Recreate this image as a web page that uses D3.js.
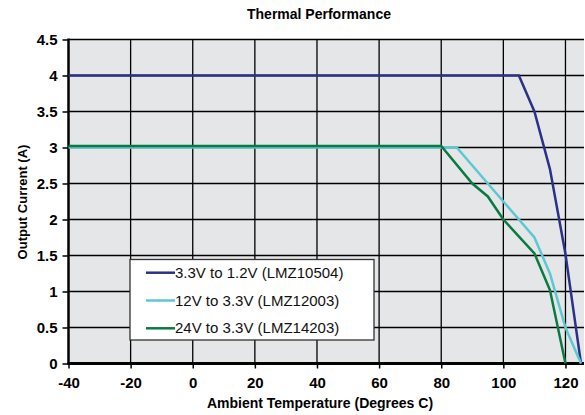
<!DOCTYPE html>
<html>
<head>
<meta charset="utf-8">
<script src="https://cdn.jsdelivr.net/npm/d3@7"></script>
<style>
  body { margin: 0; background: #fff; }
  svg { display: block; font-family: "Liberation Sans Narrow", "Arial Narrow", sans-serif; }
</style>
</head>
<body>
<div class="canva"></div>
<script>
var width = 585;
var height = 415;

// temperatures (deg C) and output current (A) for each module
const tempBlue = [-40, 105, 110, 115, 120, 125];
const ampBlue = [4, 4, 3.5, 2.7, 1.52, 0];
const tempCyan = [-40, 85, 100, 110, 115, 120, 125];
const ampCyan = [3, 3, 2.25, 1.75, 1.25, 0.5, 0];
const tempGreen = [-40, 80, 90, 95, 100, 110, 115, 120];
const ampGreen = [3.02, 3.02, 2.5, 2.32, 2.0, 1.53, 1.02, 0];

const seriesNames = ['3.3V to 1.2V (LMZ10504)', '12V to 3.3V (LMZ12003)', '24V to 3.3V (LMZ14203)'];
const seriesColors = ['#2b3088', '#5cc9d2', '#0a7a43'];

const xTicks = [-40, -20, 0, 20, 40, 60, 80, 100, 120];
const yTicks = [0, 0.5, 1, 1.5, 2, 2.5, 3, 3.5, 4, 4.5];

const series = [
  tempBlue.map((t, i) => ({t: t, a: ampBlue[i]})),
  tempCyan.map((t, i) => ({t: t, a: ampCyan[i]})),
  tempGreen.map((t, i) => ({t: t, a: ampGreen[i]}))
];

const x = d3.scaleLinear().domain([-40, 125]).range([68.5, 581]);
const y = d3.scaleLinear().domain([0, 4.5]).range([363.5, 39.5]);

const svg = d3.select('.canva').append('svg')
  .attr('width', width)
  .attr('height', height);

// plot background
svg.append('rect')
  .attr('x', x(-40)).attr('y', y(4.5))
  .attr('width', x(125) - x(-40) + 3).attr('height', y(0) - y(4.5))
  .attr('fill', '#e5e6e8');

// grid
svg.append('g').selectAll('line')
  .data(xTicks.filter(d => d > -40))
  .enter().append('line')
  .attr('x1', d => x(d)).attr('x2', d => x(d))
  .attr('y1', y(4.5)).attr('y2', y(0))
  .attr('stroke', '#000').attr('stroke-width', 1.3);

svg.append('g').selectAll('line')
  .data(yTicks.filter(d => d > 0))
  .enter().append('line')
  .attr('x1', x(-40)).attr('x2', x(125) + 3)
  .attr('y1', d => y(d)).attr('y2', d => y(d))
  .attr('stroke', '#000').attr('stroke-width', 1.3);

// axes
const xAxis = svg.append('g')
  .attr('transform', 'translate(0,' + y(0) + ')')
  .call(d3.axisBottom(x).tickValues(xTicks).tickSize(5).tickPadding(9).tickFormat(d => String(d)));
xAxis.select('.domain').remove();
xAxis.selectAll('text').attr('font-size', 15).attr('font-weight', 'bold').attr('fill', '#000')
  .attr('font-family', '"Liberation Sans Narrow", sans-serif');
xAxis.selectAll('line').attr('stroke-width', 1.5);

const yAxis = svg.append('g')
  .attr('transform', 'translate(' + x(-40) + ',0)')
  .call(d3.axisLeft(y).tickValues(yTicks).tickSize(6).tickPadding(5).tickFormat(d => String(d)));
yAxis.select('.domain').remove();
yAxis.selectAll('text').attr('font-size', 15).attr('font-weight', 'bold').attr('fill', '#000')
  .attr('font-family', '"Liberation Sans Narrow", sans-serif');
yAxis.selectAll('line').attr('stroke-width', 1.5);

svg.append('line')
  .attr('x1', x(-40)).attr('x2', x(-40))
  .attr('y1', y(4.5) - 1).attr('y2', y(0) + 1)
  .attr('stroke', '#000').attr('stroke-width', 2.5);
svg.append('line')
  .attr('x1', x(-40) - 1).attr('x2', x(125) + 3)
  .attr('y1', y(0)).attr('y2', y(0))
  .attr('stroke', '#000').attr('stroke-width', 3);

// lines
const line = d3.line().x(d => x(d.t)).y(d => y(d.a));
svg.append('g').selectAll('path')
  .data(series)
  .enter().append('path')
  .attr('d', line)
  .attr('fill', 'none')
  .attr('stroke', (d, i) => seriesColors[i])
  .attr('stroke-width', 2.5);

// legend
const legend = svg.append('g');
legend.append('rect')
  .attr('x', 130).attr('y', 259.5)
  .attr('width', 244).attr('height', 80.5)
  .attr('fill', '#fff').attr('stroke', '#333').attr('stroke-width', 1.3);
const item = legend.selectAll('g.item')
  .data(seriesNames)
  .enter().append('g')
  .attr('class', 'item')
  .attr('transform', (d, i) => 'translate(0,' + (272.7 + i * 27.8) + ')');
item.append('line')
  .attr('x1', 146).attr('x2', 175)
  .attr('stroke', (d, i) => seriesColors[i]).attr('stroke-width', 2.5);
item.append('text')
  .attr('x', 175).attr('y', 5)
  .attr('font-size', 15)
  .attr('fill', '#111')
  .text(d => d);

// titles
svg.append('text')
  .attr('x', 319).attr('y', 18.5)
  .attr('text-anchor', 'middle')
  .attr('font-size', 14).attr('font-weight', 'bold')
  .text('Thermal Performance');

svg.append('text')
  .attr('x', 320).attr('y', 408)
  .attr('text-anchor', 'middle')
  .attr('font-size', 14).attr('font-weight', 'bold')
  .text('Ambient Temperature (Degrees C)');

svg.append('text')
  .attr('transform', 'translate(27,' + 202 + ') rotate(-90)')
  .attr('text-anchor', 'middle')
  .attr('font-size', 13).attr('font-weight', 'bold')
  .text('Output Current (A)');
</script>
</body>
</html>
